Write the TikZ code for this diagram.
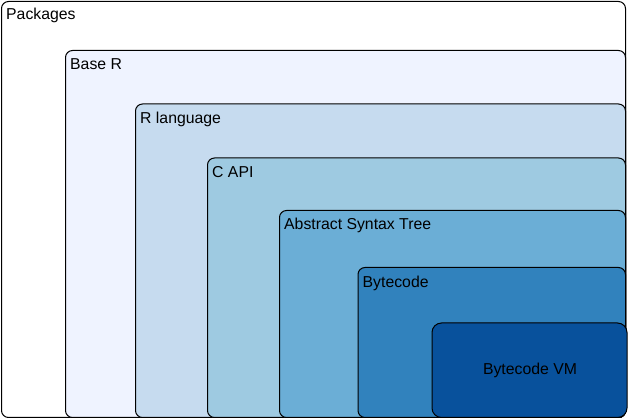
\documentclass[tikz,border=0pt]{standalone}
\usepackage{fontspec}
\setmainfont{Liberation Sans}
\definecolor{cPkg}{HTML}{FFFFFF}
\definecolor{cBase}{HTML}{EFF3FF}
\definecolor{cRlang}{HTML}{C6DBEF}
\definecolor{cCapi}{HTML}{9ECAE1}
\definecolor{cAst}{HTML}{6BAED6}
\definecolor{cByte}{HTML}{3182BD}
\definecolor{cVM}{HTML}{08519C}
\begin{document}
\begin{tikzpicture}[x=1pt,y=-1pt,
  layer/.style={draw=black, line width=1pt, rounded corners=7pt},
  lbl/.style={anchor=base west, inner sep=0pt, font=\fontsize{15.8}{18}\selectfont},
  every node/.style={inner sep=0pt}]
\useasboundingbox (0,0) rectangle (630,419);
\def\R{625.5}
\def\B{417.5}
\path[layer, fill=cPkg]   (1.5,1.5)   rectangle (\R,\B) coordinate (pkgSE);
\path[layer, fill=cBase]  (65.5,50.5) rectangle (\R,\B);
\path[layer, fill=cRlang] (135.5,104) rectangle (\R,\B);
\path[layer, fill=cCapi]  (207.5,158) rectangle (\R,\B);
\path[layer, fill=cAst]   (279.5,210.5) rectangle (\R,\B);
\path[layer, fill=cByte]  (358,267.5) rectangle (\R,\B);
\path[layer, fill=cVM, rounded corners=9.5pt] (432,323) rectangle (627,\B);
\node[lbl] (tPkg)   at (6,20)     {Packages};
\node[lbl] (tBase)  at (70,70)    {Base R};
\node[lbl] (tRlang) at (140,124)  {R language};
\node[lbl] (tCapi)  at (212,178)  {C API};
\node[lbl] (tAst)   at (284,230)  {Abstract Syntax Tree};
\node[lbl] (tByte)  at (362.5,287.5) {Bytecode};
\node[lbl, anchor=base] (tVM) at (530,375) {Bytecode VM};
\end{tikzpicture}
\end{document}
